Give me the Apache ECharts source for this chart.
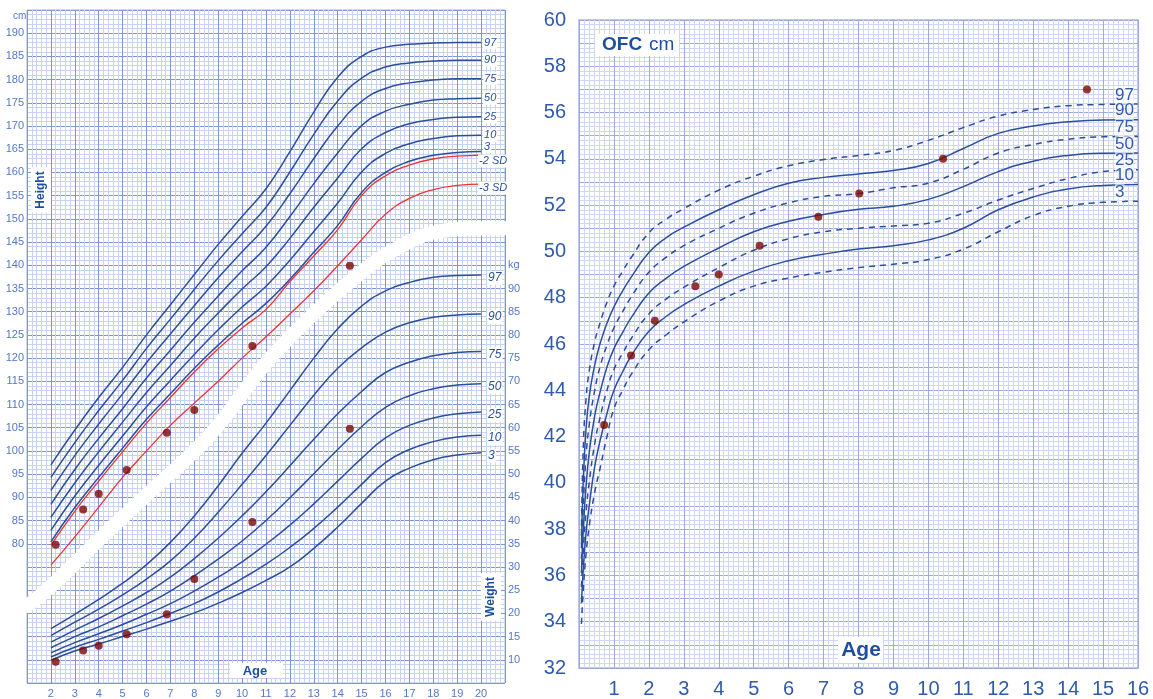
<!DOCTYPE html>
<html><head><meta charset="utf-8">
<script src="https://cdn.jsdelivr.net/npm/echarts@6/dist/echarts.min.js"></script>
<style>html,body{margin:0;padding:0;background:#fff}#c{width:1153px;height:699px}</style>
</head><body><div id="c"></div>
<script>
// ---------- Height / weight chart ----------
const hwAges = [2,3,4,5,6,7,8,9,10,11,12,13,14,15,16,17,18,19,20];
const heightNames = ['97','90','75','50','25','10','3'];
const h97 = [97,104.5,111.5,118,125,131.5,138,144.5,150.5,156.5,164.5,173,180.5,185,187,187.6,187.9,188,188];
const h90 = [94.3,101.8,108.7,115.2,122.1,128.4,134.8,141.0,146.8,152.5,160.1,168.2,175.4,180.3,182.7,183.6,184.0,184.2,184.2];
const h75 = [91.5,99.0,105.8,112.3,119.0,125.2,131.3,137.3,142.9,148.4,155.4,163.0,170.0,175.3,178.1,179.3,179.9,180.2,180.2];
const h50 = [88.5,96.0,102.7,109.1,115.7,121.7,127.7,133.4,138.8,143.9,150.5,157.6,164.2,170.1,173.2,174.7,175.6,175.9,176.0];
const h25 = [85.7,93.1,99.8,106.2,112.6,118.4,124.3,129.7,134.9,139.7,145.8,152.5,158.8,165.1,168.6,170.5,171.4,171.9,172.0];
const h10 = [82.9,90.3,96.9,103.2,109.5,115.2,120.8,126.1,131.0,135.5,141.1,147.3,153.4,160.1,164.1,166.2,167.3,167.9,168.0];
const h3  = [80.4,87.8,94.3,100.6,106.8,112.3,117.8,122.8,127.5,131.8,137,142.8,148.6,155.7,160,162.4,163.7,164.3,164.5];
const sdNames = ['-2 SD','-3 SD'];
const hm2sd = [79.7,87,93.5,99.8,106,111.5,117,122,126.5,130.5,136.5,142,147.7,155,159.3,161.6,162.9,163.5,163.75];
const hm3sd = [75.4,81.5,87.9,94.3,100,105.5,110.3,115,120,124.6,129.5,134.5,139.9,145.5,151,154.4,156.3,157.2,157.5];
const weightNames = ['97','90','75','50','25','10','3'];
const w97 = [16.7,19.8,23,26.5,30.5,35.3,41,47.5,54.5,61,68,75,81.3,86.2,89.5,91.3,92.4,92.8,92.9];
const w90 = [15.2,18.1,20.9,24.0,27.4,31.3,36.2,41.8,47.8,54.0,60.5,67.0,72.8,77.2,80.6,82.6,83.8,84.3,84.5];
const w75 = [13.8,16.4,18.9,21.6,24.5,27.8,31.8,36.2,41.0,46.2,51.8,57.5,63.0,67.8,71.9,74.1,75.5,76.2,76.4];
const w50 = [12.6,15.0,17.1,19.5,22.0,24.8,28.1,31.7,35.6,40.0,44.9,50.1,55.3,60.2,64.4,66.9,68.4,69.2,69.5];
const w25 = [11.5,13.7,15.6,17.6,19.8,22.1,24.8,27.8,31.1,34.9,39.0,43.6,48.5,53.4,57.8,60.5,62.1,63.0,63.4];
const w10 = [10.6,12.7,14.4,16.2,18.0,20.0,22.1,24.6,27.5,30.6,34.2,38.3,42.9,47.8,52.5,55.3,57.0,58.0,58.4];
const w3  = [9.9,11.9,13.4,15,16.6,18.3,20.1,22.2,24.5,27.1,30,34,38.6,43.7,48.5,51.3,53.1,54.1,54.6];
// patient measurements
const visitAges = [2.2,3.35,4.0,5.17,6.85,8.0,10.43,14.51];
const patHeight = [79.8,87.4,90.8,95.9,103.9,108.8,122.6,139.9];
const patWeight = [9.6,12.0,13.0,15.5,19.8,27.4,39.7,59.8];
// white separator band (age, height-scale)
const bandAges = [1,2,4,6,7.6,9,10.75,12,13.7,15,15.8,16.7,17.5,18.5,19.5,21];
const bandVals = [66.6,70.8,80.8,90.5,98.0,105.5,117.4,124.5,132.9,138.5,141.6,144.3,146.3,147.5,147.9,148.0];
const heightTicks = [80,85,90,95,100,105,110,115,120,125,130,135,140,145,150,155,160,165,170,175,180,185,190];
const weightTicks = [10,15,20,25,30,35,40,45,50,55,60,65,70,75,80,85,90];
const hwAgeTicks = [2,3,4,5,6,7,8,9,10,11,12,13,14,15,16,17,18,19,20];

// ---------- OFC chart ----------
const ofcAges = [0.07,0.12,0.2,0.3,0.45,0.6,0.8,1,1.25,1.5,2,2.5,3,4,5,6,7,8,9,10,11,12,13,14,15,16];
const ofcNames = ['97','90','75','50','25','10','3'];
const o97 = [37.7,41.4,43.6,44.9,46.1,46.9,47.8,48.5,49.15,49.75,50.8,51.4,51.85,52.65,53.25,53.7,53.97,54.15,54.36,54.8,55.35,55.85,56.13,56.3,56.35,56.37];
const o90 = [37.2,40.0,42.3,43.8,45.1,46.0,46.9,47.6,48.3,48.9,49.95,50.6,51.05,51.8,52.45,52.95,53.2,53.35,53.5,53.8,54.45,55.1,55.42,55.6,55.68,55.69];
const o75 = [36.7,38.9,41.1,42.6,44.0,45.0,45.95,46.7,47.4,48.05,49.1,49.75,50.25,51.0,51.65,52.1,52.38,52.5,52.75,52.95,53.55,54.25,54.62,54.85,54.95,54.97];
const o50 = [36.1,37.9,39.8,41.4,42.9,43.9,45.0,45.8,46.5,47.15,48.2,48.85,49.35,50.15,50.85,51.3,51.6,51.82,51.95,52.25,52.8,53.45,53.9,54.15,54.24,54.25];
const o25 = [35.5,37.0,38.7,40.1,41.7,42.8,44.0,44.9,45.6,46.25,47.3,47.95,48.45,49.3,50.05,50.55,50.85,51.0,51.1,51.22,51.65,52.22,52.72,53.15,53.45,53.53];
const o10 = [34.8,36.2,37.8,39.1,40.7,41.8,43.0,44.0,44.8,45.5,46.55,47.2,47.7,48.5,49.15,49.6,49.88,50.1,50.25,50.5,51.0,51.8,52.35,52.7,52.85,52.89];
const o3  = [33.9,35.3,36.9,38.2,39.6,40.6,42.0,43.2,44.0,44.7,45.75,46.4,46.95,47.85,48.5,48.85,49.1,49.3,49.45,49.65,50.1,50.85,51.55,51.95,52.12,52.17];
const ofcVisitAges = [0.72,1.49,2.17,3.33,4.0,5.17,6.85,8.02,10.42,14.54];
const ofcVals = [42.5,45.5,47.0,48.5,49.0,50.25,51.5,52.5,54.0,57.0];
const ofcYTicks = [32,34,36,38,40,42,44,46,48,50,52,54,56,58,60];
const ofcXTicks = [1,2,3,4,5,6,7,8,9,10,11,12,13,14,15,16];

const BLUE = '#2b4f9c', RED = '#ee3535', DOT = '#7a0606';
const LBL = '#5577c4', LBL2 = '#2f5aae';
const pairs = (xs, ys) => xs.map((x, i) => [x, ys[i]]);

const chart = echarts.init(document.getElementById('c'), null, {renderer: 'canvas'});
const series = [];
series.push({type:'line', xAxisIndex:0, yAxisIndex:0, data:pairs(bandAges, bandVals), smooth:0.5, symbol:'none',
  lineStyle:{color:'#ffffff', width:14, cap:'round'}, silent:true, z:1});
const hSets = [h97,h90,h75,h50,h25,h10,h3];
const hOffs = [0,0,0,0,0,0,-5];
const SM = 0.5;
hSets.forEach((d, i) => series.push({type:'line', xAxisIndex:0, yAxisIndex:0, data:pairs(hwAges, d), smooth:SM,
  symbol:'none', lineStyle:{color:BLUE, width:1.5}, z:3,
  endLabel:{show:true, formatter:heightNames[i], distance:2, offset:[0,hOffs[i]], color:BLUE, fontStyle:'italic', fontSize:11,
    fontFamily:'Liberation Sans, Arial', backgroundColor:'#fff', padding:[1,1]}}));
[hm2sd, hm3sd].forEach((d, i) => series.push({type:'line', xAxisIndex:0, yAxisIndex:0, data:pairs(hwAges, d), smooth:SM,
  symbol:'none', lineStyle:{color:RED, width:1.3}, z:3,
  endLabel:{show:true, formatter:sdNames[i], distance:-3, offset:[0,[6,4][i]], color:BLUE, fontStyle:'italic', fontSize:11,
    fontFamily:'Liberation Sans, Arial', backgroundColor:'#fff', padding:[1,1]}}));
const wSets = [w97,w90,w75,w50,w25,w10,w3];
wSets.forEach((d, i) => series.push({type:'line', xAxisIndex:0, yAxisIndex:1, data:pairs(hwAges, d), smooth:SM,
  symbol:'none', lineStyle:{color:BLUE, width:1.5}, z:3,
  endLabel:{show:true, formatter:weightNames[i], distance:6, offset:[0,3], color:BLUE, fontStyle:'italic', fontSize:12,
    fontFamily:'Liberation Sans, Arial', backgroundColor:'#fff', padding:[1,1]}}));
series.push({type:'scatter', xAxisIndex:0, yAxisIndex:0, data:pairs(visitAges, patHeight), symbolSize:8, itemStyle:{color:DOT}, z:5});
series.push({type:'scatter', xAxisIndex:0, yAxisIndex:1, data:pairs(visitAges, patWeight), symbolSize:8, itemStyle:{color:DOT}, z:5});
const oSets = [o97,o90,o75,o50,o25,o10,o3];
oSets.forEach((d, i) => series.push({type:'line', xAxisIndex:1, yAxisIndex:2, data:pairs(ofcAges, d), smooth:SM,
  symbol:'none', lineStyle:{color:BLUE, width:1.5, type: i % 2 === 0 ? [6,5] : 'solid'}, z:3,
  endLabel:{show:true, formatter:ofcNames[i], distance:5, offset:[-28,-9], color:LBL2, fontSize:17,
    fontFamily:'Liberation Sans, Arial', backgroundColor:'rgba(255,255,255,0.6)', padding:[0,0]}}));
series.push({type:'scatter', xAxisIndex:1, yAxisIndex:2, data:pairs(ofcVisitAges, ofcVals), symbolSize:8, itemStyle:{color:DOT}, z:5});

const gridLine = (c) => ({show:true, lineStyle:{color:c, width:1}});
const option = {
  animation:false,
  backgroundColor:'#fff',
  grid:[
    {left:27, top:10, width:478, height:673, show:true, borderColor:'#a8b4e6', borderWidth:1, containLabel:false},
    {left:579, top:20, width:559, height:649.5, show:true, borderColor:'#aab3e6', borderWidth:1.5, containLabel:false}
  ],
  xAxis:[
    {gridIndex:0, type:'value', min:1, max:21, interval:1, axisLine:{show:false}, axisTick:{show:false},
     axisLabel:{margin:5, color:LBL, fontSize:11, fontFamily:'Liberation Sans, Arial',
       formatter:v => hwAgeTicks.includes(v) ? String(v) : ''},
     splitLine:gridLine('#7f95d4'), minorTick:{show:false, splitNumber:5}, minorSplitLine:gridLine('#cad2f1')},
    {gridIndex:1, type:'value', min:0, max:16, interval:1, axisLine:{show:false}, axisTick:{show:false},
     axisLabel:{margin:11, color:LBL2, fontSize:20, fontFamily:'Liberation Sans, Arial',
       formatter:v => ofcXTicks.includes(v) ? String(v) : ''},
     splitLine:gridLine('#9da9e0'), minorTick:{show:false, splitNumber:7}, minorSplitLine:gridLine('#d0d6f3')}
  ],
  yAxis:[
    {gridIndex:0, type:'value', min:50, max:195, interval:5, axisLine:{show:false}, axisTick:{show:false},
     axisLabel:{margin:3, color:LBL, fontSize:11, fontFamily:'Liberation Sans, Arial',
       formatter:v => heightTicks.includes(v) ? String(v) : ''},
     splitLine:gridLine('#7f95d4'), minorTick:{show:false, splitNumber:5}, minorSplitLine:gridLine('#cad2f1')},
    {gridIndex:0, type:'value', position:'right', min:5, max:150, interval:5, axisLine:{show:false}, axisTick:{show:false},
     axisLabel:{margin:3, color:LBL, fontSize:11, fontFamily:'Liberation Sans, Arial',
       formatter:v => weightTicks.includes(v) ? String(v) : (v === 95 ? 'kg' : '')},
     splitLine:{show:false}},
    {gridIndex:1, type:'value', min:32, max:60, interval:1, axisLine:{show:false}, axisTick:{show:false},
     axisLabel:{margin:13, color:LBL2, fontSize:20, fontFamily:'Liberation Sans, Arial',
       formatter:v => ofcYTicks.includes(v) ? String(v) : ''},
     splitLine:gridLine('#9da9e0'), minorTick:{show:false, splitNumber:5}, minorSplitLine:gridLine('#d0d6f3')}
  ],
  graphic:[
    {type:'text', x:13, y:11, style:{text:'cm', fill:LBL, font:'10px Liberation Sans, Arial'}},
    {type:'text', x:41, y:190, rotation:Math.PI/2, style:{text:'Height', fill:'#1f4e9c', font:'bold 12px Liberation Sans, Arial',
      align:'center', verticalAlign:'middle', backgroundColor:'#fff', padding:[4,4]}, z:10},
    {type:'text', x:491, y:597, rotation:Math.PI/2, style:{text:'Weight', fill:'#1f4e9c', font:'bold 12px Liberation Sans, Arial',
      align:'center', verticalAlign:'middle', backgroundColor:'#fff', padding:[4,4]}, z:10},
    {type:'rect', shape:{x:230, y:663, width:53, height:15}, style:{fill:'#fff'}, z:10},
    {type:'text', x:255, y:671, style:{text:'Age', fill:'#1f4e9c', font:'bold 13px Liberation Sans, Arial',
      align:'center', verticalAlign:'middle'}, z:11},
    {type:'rect', shape:{x:838, y:637, width:45, height:26}, style:{fill:'#fff'}, z:10},
    {type:'text', x:861, y:650, style:{text:'Age', fill:'#1f4e9c', font:'bold 21px Liberation Sans, Arial',
      align:'center', verticalAlign:'middle'}, z:11},
    {type:'rect', shape:{x:595, y:34, width:84, height:22}, style:{fill:'#fff'}, z:10},
    {type:'text', x:602, y:45, style:{text:'OFC', fill:'#1f4e9c', font:'bold 19px Liberation Sans, Arial',
      align:'left', verticalAlign:'middle'}, z:11},
    {type:'text', x:649, y:45, style:{text:'cm', fill:'#1f4e9c', font:'19px Liberation Sans, Arial',
      align:'left', verticalAlign:'middle'}, z:11}
  ],
  series: series
};
chart.setOption(option);
</script></body></html>
